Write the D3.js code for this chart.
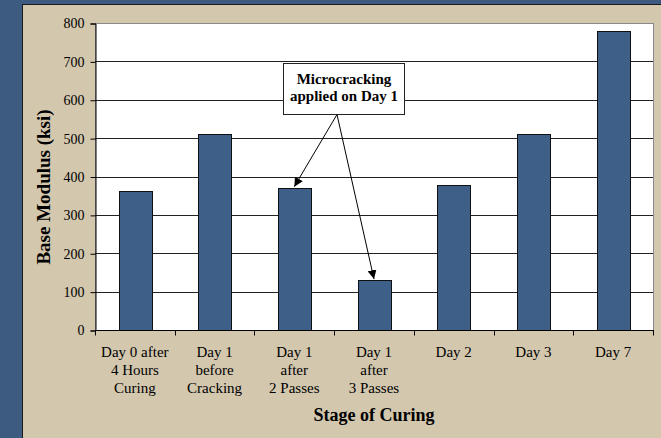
<!DOCTYPE html>
<html>
<head>
<meta charset="utf-8">
<script src="https://cdn.jsdelivr.net/npm/d3@7"></script>
<style>
  body { margin: 0; background: #3d5a80; }
  svg { display: block; }
  text { font-family: "Liberation Serif", "Times New Roman", serif; fill: #000; }
</style>
</head>
<body>
<div id="chart"></div>
<script>
// Datos
const categories = [
  ['Day 0 after', '4 Hours', 'Curing'],
  ['Day 1', 'before', 'Cracking'],
  ['Day 1', 'after', '2 Passes'],
  ['Day 1', 'after', '3 Passes'],
  ['Day 2'],
  ['Day 3'],
  ['Day 7']
];
const values = [362, 511, 371, 130, 378, 510, 778];
const yTicks = [0, 100, 200, 300, 400, 500, 600, 700, 800];
const noteLines = ['Microcracking', 'applied on Day 1'];
const noteTargets = [2, 3];

const width = 661, height = 438;
const margin = {left: 95, right: 8, top: 23, bottom: 108};

const svg = d3.select('#chart').append('svg')
  .attr('width', width)
  .attr('height', height);

// Fondo
svg.append('rect').attr('width', width).attr('height', height).attr('fill', '#3d5a80');
svg.append('rect')
  .attr('x', 22.5).attr('y', 4.5)
  .attr('width', width).attr('height', height)
  .attr('fill', '#d3c7ae').attr('stroke', '#1a1a1a').attr('stroke-width', 1);

const x = d3.scaleBand()
  .domain(d3.range(categories.length))
  .range([margin.left, width - margin.right])
  .paddingInner(0.59).paddingOuter(0.295);

const y = d3.scaleLinear()
  .domain([0, 800])
  .range([height - margin.bottom, margin.top]);

// Area del grafico
svg.append('rect')
  .attr('x', margin.left + 0.5).attr('y', margin.top + 0.5)
  .attr('width', width - margin.right - margin.left)
  .attr('height', height - margin.bottom - margin.top)
  .attr('fill', '#fff').attr('stroke', '#8a8a8a');

// Gridlines
svg.append('g').selectAll('line')
  .data(yTicks.filter(d => d > 0 && d < 800))
  .enter().append('line')
  .attr('x1', margin.left).attr('x2', width - margin.right)
  .attr('y1', d => Math.round(y(d)) + 0.5).attr('y2', d => Math.round(y(d)) + 0.5)
  .attr('stroke', '#222');

// Barras
svg.append('g').selectAll('rect')
  .data(values)
  .enter().append('rect')
  .attr('x', (d, i) => Math.round(x(i)) + 0.5)
  .attr('y', d => Math.round(y(d)) + 0.5)
  .attr('width', Math.round(x.bandwidth()))
  .attr('height', d => Math.round(y(0)) - Math.round(y(d)))
  .attr('fill', '#3e5f87')
  .attr('stroke', '#111');

// Eje Y
const yAxis = svg.append('g')
  .attr('transform', 'translate(' + (margin.left + 0.5) + ',0.5)')
  .call(d3.axisLeft(y).tickValues(yTicks).tickSize(5).tickPadding(6));
yAxis.selectAll('text').style('font-size', '14px').attr('font-family', 'Liberation Serif');
yAxis.selectAll('line, path').attr('stroke', '#000');

// Eje X
const xAxisY = Math.round(y(0)) + 0.5;
svg.append('line')
  .attr('x1', margin.left).attr('x2', width - margin.right + 1)
  .attr('y1', xAxisY).attr('y2', xAxisY)
  .attr('stroke', '#000');

const plotW = width - margin.right - margin.left;
svg.append('g').selectAll('line')
  .data(d3.range(categories.length + 1))
  .enter().append('line')
  .attr('x1', i => Math.round(margin.left + i * plotW / categories.length) + 0.5)
  .attr('x2', i => Math.round(margin.left + i * plotW / categories.length) + 0.5)
  .attr('y1', xAxisY).attr('y2', xAxisY + 5)
  .attr('stroke', '#000');

const labels = svg.append('g').selectAll('text')
  .data(categories)
  .enter().append('text')
  .attr('x', (d, i) => x(i) + x.bandwidth() / 2)
  .attr('y', 357)
  .attr('text-anchor', 'middle')
  .style('font-size', '15px');
labels.selectAll('tspan')
  .data(d => d)
  .enter().append('tspan')
  .attr('x', function() { return this.parentNode.getAttribute('x'); })
  .attr('dy', (d, i) => i === 0 ? 0 : 18)
  .text(d => d);

// Titulos
svg.append('text')
  .attr('x', (margin.left + width - margin.right) / 2)
  .attr('y', 421)
  .attr('text-anchor', 'middle')
  .style('font-size', '18px').style('font-weight', 'bold')
  .text('Stage of Curing');

svg.append('text')
  .attr('transform', 'translate(50,187) rotate(-90)')
  .attr('text-anchor', 'middle')
  .style('font-size', '19px').style('font-weight', 'bold')
  .text('Base Modulus (ksi)');

// Anotacion
svg.append('defs').append('marker')
  .attr('id', 'arrow')
  .attr('viewBox', '0 0 10 10')
  .attr('refX', 10).attr('refY', 5)
  .attr('markerWidth', 9).attr('markerHeight', 9)
  .attr('markerUnits', 'userSpaceOnUse')
  .attr('orient', 'auto')
  .append('path').attr('d', 'M0,0 L10,5 L0,10 z').attr('fill', '#000');

const box = {x: 283.5, y: 63.5, w: 121, h: 51};
const start = {x: 337, y: box.y + box.h};
svg.append('g').selectAll('line')
  .data(noteTargets)
  .enter().append('line')
  .attr('x1', start.x).attr('y1', start.y)
  .attr('x2', i => x(i) + x.bandwidth() / 2)
  .attr('y2', i => y(values[i]) - 1)
  .attr('stroke', '#000').attr('stroke-width', 1)
  .attr('marker-end', 'url(#arrow)');

svg.append('rect')
  .attr('x', box.x).attr('y', box.y)
  .attr('width', box.w).attr('height', box.h)
  .attr('fill', '#fff').attr('stroke', '#222').attr('stroke-width', 1);

svg.append('g').selectAll('text')
  .data(noteLines)
  .enter().append('text')
  .attr('x', box.x + box.w / 2)
  .attr('y', (d, i) => 84 + i * 17)
  .attr('text-anchor', 'middle')
  .style('font-size', '15px').style('font-weight', 'bold')
  .text(d => d);
</script>
</body>
</html>
